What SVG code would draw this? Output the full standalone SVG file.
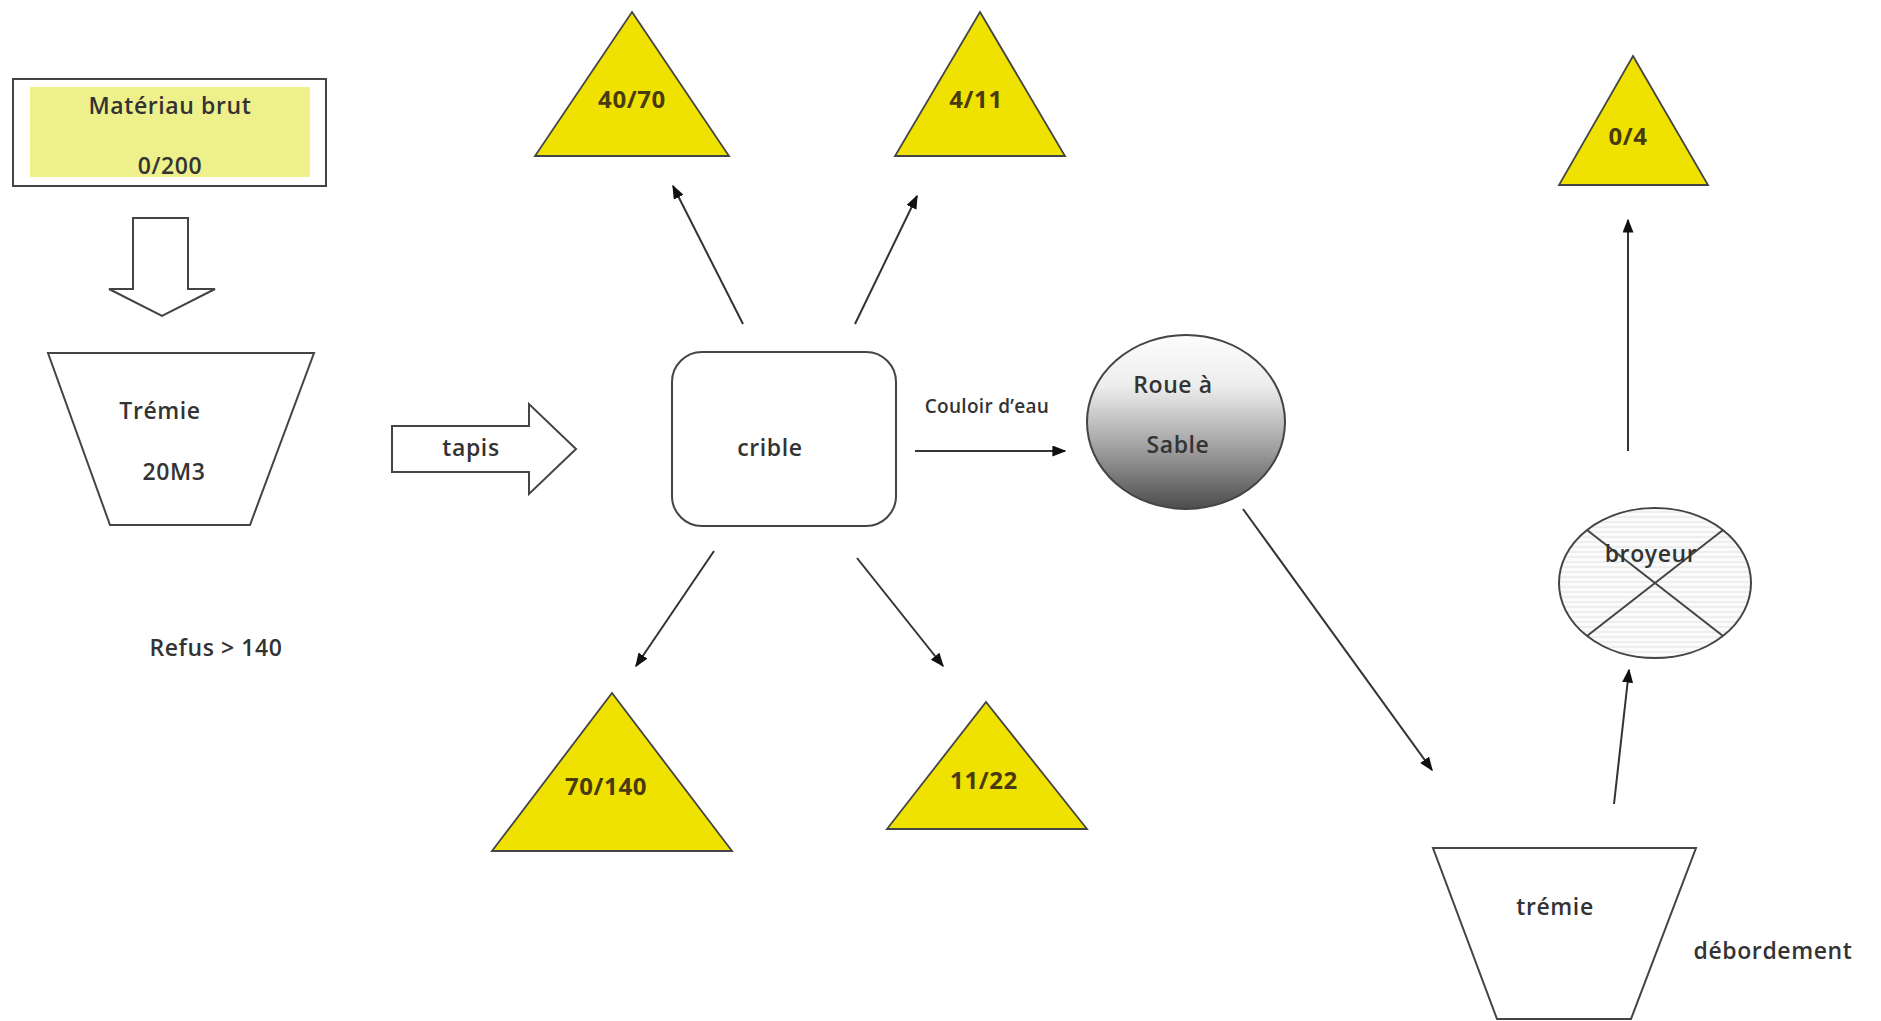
<svg xmlns="http://www.w3.org/2000/svg" width="1881" height="1021" viewBox="0 0 1881 1021">
<style>
text{font-family:"Open Sans",Lato,"Liberation Sans",sans-serif;fill:#333;text-anchor:middle;font-size:23px;font-weight:600;letter-spacing:0.6px}
.s{stroke:#444;stroke-width:2;fill:#fff}
.tri{fill:#f0e200;stroke:#444;stroke-width:1.8}
.tt{font-weight:700;fill:#4a3a10;font-size:24px}
.c{stroke:#333;stroke-width:2;fill:none;marker-end:url(#ah)}
</style>
<defs>
<marker id="ah" viewBox="0 0 10 10" refX="9" refY="5" markerWidth="14" markerHeight="11" orient="auto" markerUnits="userSpaceOnUse" preserveAspectRatio="none">
<path d="M0,0 L10,5 L0,10 z" fill="#111"/>
</marker>
<linearGradient id="roue" x1="0" y1="0" x2="0" y2="1">
<stop offset="0" stop-color="#fdfdfd"/>
<stop offset="0.3" stop-color="#ececec"/>
<stop offset="0.65" stop-color="#a0a0a0"/>
<stop offset="1" stop-color="#4c4c4c"/>
</linearGradient>
<pattern id="hatch" width="8" height="5" patternUnits="userSpaceOnUse">
<rect width="8" height="5" fill="#fbfbfb"/>
<line x1="0" y1="2" x2="8" y2="2" stroke="#e2e2e2" stroke-width="1"/>
</pattern>
</defs>
<rect width="1881" height="1021" fill="#fff"/>

<g id="materiau">
<rect x="13" y="79" width="313" height="107" class="s"/>
<rect x="30" y="87" width="280" height="90" fill="#eef08c"/>
<text x="170" y="114">Matériau brut</text>
<text x="170" y="174">0/200</text>
</g>

<g id="fleche-bas">
<path d="M133,218 H188 V289 H215 L162,316 L109,289 H133 Z" class="s"/>
</g>

<g id="tremie">
<path d="M48,353 H314 L250,525 H110 Z" class="s"/>
<text x="160" y="419">Trémie</text>
<text x="174" y="480">20M3</text>
</g>

<g id="refus">
<text x="216" y="656">Refus &gt; 140</text>
</g>

<g id="tapis">
<path d="M392,426 H529 V404 L576,449 L529,494 V472 H392 Z" class="s"/>
<text x="471" y="456">tapis</text>
</g>

<g id="crible">
<rect x="672" y="352" width="224" height="174" rx="30" ry="30" class="s"/>
<text x="770" y="456">crible</text>
</g>

<g id="couloir">
<text x="987" y="413" style="font-size:19px;letter-spacing:0.3px">Couloir d’eau</text>
</g>

<g id="roue">
<ellipse cx="1186" cy="422" rx="99" ry="87" fill="url(#roue)" stroke="#444" stroke-width="2"/>
<text x="1173" y="393">Roue à</text>
<text x="1178" y="453">Sable</text>
</g>

<g id="t4070">
<path d="M632,12 L729,156 H535 Z" class="tri"/>
<text x="632" y="108" class="tt">40/70</text>
</g>
<g id="t411">
<path d="M980,12 L1065,156 H895 Z" class="tri"/>
<text x="976" y="108" class="tt">4/11</text>
</g>
<g id="t70140">
<path d="M612,693 L732,851 H492 Z" class="tri"/>
<text x="606" y="795" class="tt">70/140</text>
</g>
<g id="t1122">
<path d="M986,702 L1087,829 H887 Z" class="tri"/>
<text x="984" y="789" class="tt">11/22</text>
</g>
<g id="t04">
<path d="M1633,56 L1708,185 H1559 Z" class="tri"/>
<text x="1628" y="145" class="tt">0/4</text>
</g>

<g id="broyeur">
<ellipse cx="1655" cy="583" rx="96" ry="75" fill="url(#hatch)" stroke="#444" stroke-width="2"/>
<line x1="1587" y1="530" x2="1723" y2="636" stroke="#444" stroke-width="2"/>
<line x1="1723" y1="530" x2="1587" y2="636" stroke="#444" stroke-width="2"/>
<text x="1651" y="562">broyeur</text>
</g>

<g id="tremie2">
<path d="M1433,848 H1696 L1631,1019 H1497 Z" class="s"/>
<text x="1555" y="915">trémie</text>
</g>

<g id="debordement">
<text x="1773" y="959">débordement</text>
</g>

<g id="connectors">
<line x1="743" y1="324" x2="673" y2="186" class="c"/>
<line x1="855" y1="324" x2="917" y2="196" class="c"/>
<line x1="714" y1="551" x2="636" y2="666" class="c"/>
<line x1="857" y1="558" x2="943" y2="666" class="c"/>
<line x1="915" y1="451" x2="1065" y2="451" class="c"/>
<line x1="1243" y1="509" x2="1432" y2="770" class="c"/>
<line x1="1614" y1="804" x2="1629" y2="670" class="c"/>
<line x1="1628" y1="451" x2="1628" y2="220" class="c"/>
</g>
</svg>
